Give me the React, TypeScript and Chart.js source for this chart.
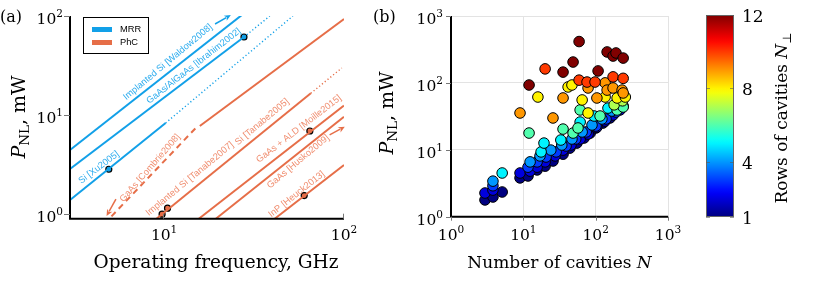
import React, { useEffect, useRef } from "react";
import { Chart, registerables } from "chart.js";
Chart.register(...registerables);

const SERIF = "'DejaVu Serif', serif";
const SANS = "'Liberation Sans', Arial, sans-serif";
const BLUE = "rgb(18,160,232)";
const BLUE_TXT = "rgb(45,172,238)";
const ORANGE = "rgb(230,110,72)";
const ORANGE_TXT = "rgb(240,142,112)";

// ---------------- Panel (a) data ----------------
const freqTicks = [10, 100];
const powerTicksA = [1, 10, 100];
const seriesNames = ["MRR", "PhC"];

const waldowLine = [[3, 4.44], [27, 102]];
const ibrahimSolid = [[3, 2.86], [27.8, 61.4]];
const ibrahimDotted = [[27.8, 61.4], [38.7, 100]];
const xuSolid = [[3, 1.39], [10.2, 8.32]];
const xuDotted = [[10.2, 8.32], [52, 100]];
const combrieDashed = [[5.1, 0.95], [15.0, 7.41]];
const combrieSolid = [[15.8, 7.76], [100, 93.3]];
const tanabeSolid = [[9.07, 0.9], [65.4, 16.6]];
const tanabeDotted = [[65.4, 16.6], [97.3, 29.9]];
const moilleLine = [[15.6, 0.9], [100, 12.5]];
const huskoLine = [[19.4, 0.9], [100, 9.64]];
const heuckLine = [[41.2, 0.9], [100, 3.14]];
const mrrPoints = [[4.93, 2.84], [27.8, 61.4]];
const phcPoints = [[9.75, 1.0], [10.45, 1.15], [64.6, 6.91], [60.1, 1.54]];

const mrrLabels = ["Implanted Si [Waldow2008]", "GaAs/AlGaAs [Ibrahim2002]", "Si [Xu2005]"];
const mrrLabelF = [10.5, 14.6, 4.34];
const mrrLabelP = [34.3, 31.3, 2.96];
const mrrLabelAngle = [-40, -38, -37];
const phcLabels = [
  "GaAs [Combrie2008]",
  "Implanted Si [Tanabe2007]",
  "Si [Tanabe2005]",
  "GaAs + ALD [Moille2015]",
  "GaAs [Husko2009]",
  "InP [Heuck2013]",
];
const phcLabelF = [8.35, 13.9, 35.0, 56.1, 55.6, 54.5];
const phcLabelP = [2.92, 2.27, 8.52, 7.24, 3.39, 1.59];
const phcLabelAngle = [-49, -39.6, -40, -37.7, -40, -38.4];

const arrowFrom = [[19.2, 83.0], [5.4, 1.42], [83.2, 6.3]];
const arrowTo = [[23.5, 102.3], [4.79, 0.96], [101, 7.64]];
const arrowIsMrr = [true, false, false];

// ---------------- Panel (b) data ----------------
const cavityTicks = [1, 10, 100, 1000];
const powerTicksB = [1, 10, 100, 1000];
const ROW_MIN = 1;
const ROW_MAX = 12;
const colorbarTicks = [1, 4, 8, 12];

const cavities = [
  // rows 1
  2.95, 3.8, 5.1, 9.0, 11.6, 15.5, 20, 25.7, 35.4, 44, 55, 69, 84, 101, 126, 158,
  // rows 2
  2.95, 3.8, 9.0, 12.4, 15.5, 20, 27.5, 35.4, 45.6, 61, 78.5, 104, 135, 174, 217,
  // rows 3
  3.8, 11.6, 15.5, 20.6, 28.4, 39, 53, 74, 101, 139, 191, 240,
  // rows 4
  3.8, 12.4, 17, 24, 34, 47, 65, 89, 122, 168, 224,
  // rows 5
  5.1, 17.6, 19.3, 33, 61, 95, 148, 203,
  // rows 6
  12, 35.4, 48.7, 57, 61, 115, 198, 240,
  // rows 7
  180, 235,
  // rows 8
  15.9, 41.6, 47, 65, 78.5, 135, 198, 257,
  // rows 9
  9.0, 25.7, 35.4, 78.5, 104, 135, 144, 174, 232, 240,
  // rows 10
  20, 59, 76, 98, 174, 240,
  // rows 12
  12, 35.4, 48.7, 59, 108, 144, 174, 191, 240,
];
const powerB = [
  1.78, 1.97, 2.34, 3.8, 4.06, 5.0, 5.7, 6.8, 8.6, 10.6, 12.6, 15, 17.8, 21.2, 25.1, 29.9,
  2.26, 2.5, 4.5, 4.8, 5.5, 6.6, 8.1, 9.9, 11.8, 14.5, 17.2, 21.9, 26.9, 33.1, 39.4,
  2.9, 5.5, 6.6, 7.8, 9.3, 11.4, 14.5, 18.5, 22.7, 28.9, 36.7, 45,
  3.4, 6.6, 8.1, 9.9, 11.8, 14.5, 18.5, 23.5, 28.9, 38, 48.4,
  4.5, 9.3, 12.6, 14, 26, 32, 42, 52,
  17.8, 20.4, 17.8, 21.2, 39.4, 32, 39.4, 43.6,
  47, 54,
  61.5, 87, 93, 55.6, 35.5, 61.5, 59.5, 61.5,
  35.5, 29.9, 59.5, 84, 59.5, 100, 78, 84, 78, 70.7,
  162, 110, 103, 103, 123, 117,
  93, 145, 205, 415, 151, 290, 252, 280, 235,
];
const rowsN = [
  ...Array(16).fill(1),
  ...Array(15).fill(2),
  ...Array(12).fill(3),
  ...Array(11).fill(4),
  ...Array(8).fill(5),
  ...Array(8).fill(6),
  ...Array(2).fill(7),
  ...Array(8).fill(8),
  ...Array(10).fill(9),
  ...Array(6).fill(10),
  ...Array(9).fill(12),
];

// ---------------- helpers ----------------
function jetColor(v: number): string {
  const t = Math.max(0, Math.min(1, (v - ROW_MIN) / (ROW_MAX - ROW_MIN)));
  const c = (x: number) => Math.round(255 * Math.max(0, Math.min(1, x)));
  return `rgb(${c(1.5 - Math.abs(4 * t - 3))},${c(1.5 - Math.abs(4 * t - 2))},${c(1.5 - Math.abs(4 * t - 1))})`;
}

type Seg = { t: string; size: number; italic?: boolean; dy?: number; family?: string };

function drawRich(
  ctx: CanvasRenderingContext2D,
  segs: Seg[],
  x: number,
  y: number,
  rot: number,
  align: "left" | "center" | "right",
  color: string,
  baseline: CanvasTextBaseline = "alphabetic"
) {
  ctx.save();
  ctx.translate(x, y);
  ctx.rotate(rot);
  ctx.fillStyle = color;
  ctx.textAlign = "left";
  ctx.textBaseline = baseline;
  const fontOf = (s: Seg) => `${s.italic ? "italic " : ""}${s.size}px ${s.family ?? SERIF}`;
  let w = 0;
  for (const s of segs) {
    ctx.font = fontOf(s);
    w += ctx.measureText(s.t).width;
  }
  let cx = align === "center" ? -w / 2 : align === "right" ? -w : 0;
  for (const s of segs) {
    ctx.font = fontOf(s);
    ctx.fillText(s.t, cx, s.dy ?? 0);
    cx += ctx.measureText(s.t).width;
  }
  ctx.restore();
}

function pow10Label(v: number): Seg[] {
  const e = Math.round(Math.log10(v));
  return [
    { t: "10", size: 15.5 },
    { t: String(e), size: 10.5, dy: -7 },
  ];
}

function drawArrow(ctx: CanvasRenderingContext2D, x0: number, y0: number, x1: number, y1: number, color: string) {
  const ang = Math.atan2(y1 - y0, x1 - x0);
  const hl = 6.5;
  const hw = 3;
  ctx.save();
  ctx.strokeStyle = color;
  ctx.fillStyle = color;
  ctx.lineWidth = 1.5;
  ctx.beginPath();
  ctx.moveTo(x0, y0);
  ctx.lineTo(x1 - hl * 0.8 * Math.cos(ang), y1 - hl * 0.8 * Math.sin(ang));
  ctx.stroke();
  ctx.beginPath();
  ctx.moveTo(x1, y1);
  ctx.lineTo(x1 - hl * Math.cos(ang) + hw * Math.sin(ang), y1 - hl * Math.sin(ang) - hw * Math.cos(ang));
  ctx.lineTo(x1 - hl * 0.7 * Math.cos(ang), y1 - hl * 0.7 * Math.sin(ang));
  ctx.lineTo(x1 - hl * Math.cos(ang) - hw * Math.sin(ang), y1 - hl * Math.sin(ang) + hw * Math.cos(ang));
  ctx.closePath();
  ctx.fill();
  ctx.restore();
}

const toXY = (pts: number[][]) => pts.map(([x, y]) => ({ x, y }));

function lineDs(pts: number[][], color: string, kind: "solid" | "dash" | "dot") {
  return {
    data: toXY(pts),
    showLine: true,
    borderColor: color,
    backgroundColor: color,
    borderWidth: kind === "dot" ? 1.4 : 2,
    borderDash: kind === "dash" ? [6, 4.5] : kind === "dot" ? [1.2, 2.4] : [],
    pointRadius: 0,
    fill: false,
  };
}

function pointDs(pts: number[][], color: string) {
  return {
    data: toXY(pts),
    showLine: false,
    pointRadius: 3,
    pointBackgroundColor: color,
    pointBorderColor: "#000",
    pointBorderWidth: 1.2,
  };
}

const hiddenX = (min: number, max: number) => ({
  type: "logarithmic" as const,
  min,
  max,
  ticks: { display: false },
  grid: { display: false, drawTicks: false },
  border: { display: false },
  afterFit: (s: any) => {
    s.height = 0;
  },
});
const hiddenY = (min: number, max: number) => ({
  type: "logarithmic" as const,
  min,
  max,
  ticks: { display: false },
  grid: { display: false, drawTicks: false },
  border: { display: false },
  afterFit: (s: any) => {
    s.width = 0;
  },
});

// ---------------- chart builders ----------------
function makeA(canvas: HTMLCanvasElement) {
  const plugin = {
    id: "panelA",
    afterDraw(chart: any) {
      const { ctx, chartArea: a } = chart;
      const sx = chart.scales.x;
      const sy = chart.scales.y;
      const px = (v: number) => sx.getPixelForValue(v);
      const py = (v: number) => sy.getPixelForValue(v);

      mrrLabels.forEach((t, i) => {
        drawRich(ctx, [{ t, size: 9.3, family: SANS }], px(mrrLabelF[i]), py(mrrLabelP[i]), (mrrLabelAngle[i] * Math.PI) / 180, "center", BLUE_TXT, "middle");
      });
      phcLabels.forEach((t, i) => {
        drawRich(ctx, [{ t, size: 9.3, family: SANS }], px(phcLabelF[i]), py(phcLabelP[i]), (phcLabelAngle[i] * Math.PI) / 180, "center", ORANGE_TXT, "middle");
      });
      arrowFrom.forEach((f, i) => {
        drawArrow(ctx, px(f[0]), py(f[1]), px(arrowTo[i][0]), py(arrowTo[i][1]), arrowIsMrr[i] ? BLUE : ORANGE);
      });

      ctx.save();
      ctx.strokeStyle = "#000";
      ctx.lineWidth = 2;
      ctx.beginPath();
      ctx.moveTo(a.left, a.top);
      ctx.lineTo(a.left, a.bottom);
      ctx.lineTo(a.right, a.bottom);
      ctx.stroke();
      ctx.strokeStyle = "#777";
      ctx.lineWidth = 1;
      powerTicksA.forEach((v) => {
        const y = Math.round(py(v)) + 0.5;
        ctx.beginPath();
        ctx.moveTo(a.left - 6, y);
        ctx.lineTo(a.left, y);
        ctx.stroke();
      });
      freqTicks.forEach((v) => {
        const x = Math.round(px(v)) - 0.5;
        ctx.beginPath();
        ctx.moveTo(x, a.bottom);
        ctx.lineTo(x, a.bottom - 5);
        ctx.stroke();
      });
      ctx.restore();

      powerTicksA.forEach((v) => drawRich(ctx, pow10Label(v), a.left - 7, py(v) + 7.5, 0, "right", "#000"));
      freqTicks.forEach((v) => drawRich(ctx, pow10Label(v), px(v), 240, 0, "center", "#000"));

      drawRich(ctx, [{ t: "Operating frequency, GHz", size: 18.5 }], (a.left + a.right) / 2 + 9, 268, 0, "center", "#000");
      drawRich(
        ctx,
        [
          { t: "P", size: 19, italic: true },
          { t: "NL", size: 13.5, dy: 4 },
          { t: ", mW", size: 19 },
        ],
        25,
        117,
        -Math.PI / 2,
        "center",
        "#000"
      );
      drawRich(ctx, [{ t: "(a)", size: 16 }], 0, 22, 0, "left", "#000");

      const lx = a.left + 13;
      const ly = a.top + 1;
      ctx.save();
      ctx.fillStyle = "#fff";
      ctx.fillRect(lx, ly, 65, 36);
      ctx.strokeStyle = "#000";
      ctx.lineWidth = 1;
      ctx.strokeRect(lx + 0.5, ly + 0.5, 65, 36);
      [BLUE, ORANGE].forEach((c, i) => {
        const yy = ly + 12.5 + i * 13;
        ctx.strokeStyle = c;
        ctx.lineWidth = 5;
        ctx.beginPath();
        ctx.moveTo(lx + 9, yy);
        ctx.lineTo(lx + 29, yy);
        ctx.stroke();
        drawRich(ctx, [{ t: seriesNames[i], size: 9.3, family: SANS }], lx + 37, yy, 0, "left", "#000", "middle");
      });
      ctx.restore();
    },
  };

  return new Chart(canvas, {
    type: "scatter",
    data: {
      datasets: [
        lineDs(waldowLine, BLUE, "solid"),
        lineDs(ibrahimSolid, BLUE, "solid"),
        lineDs(ibrahimDotted, BLUE, "dot"),
        lineDs(xuSolid, BLUE, "solid"),
        lineDs(xuDotted, BLUE, "dot"),
        lineDs(combrieDashed, ORANGE, "dash"),
        lineDs(combrieSolid, ORANGE, "solid"),
        lineDs(tanabeSolid, ORANGE, "solid"),
        lineDs(tanabeDotted, ORANGE, "dot"),
        lineDs(moilleLine, ORANGE, "solid"),
        lineDs(huskoLine, ORANGE, "solid"),
        lineDs(heuckLine, ORANGE, "solid"),
        pointDs(mrrPoints, BLUE),
        pointDs(phcPoints, ORANGE),
      ] as any,
    },
    options: {
      responsive: false,
      animation: false,
      layout: { padding: { left: 70, right: 16, top: 16, bottom: 74.3 } },
      plugins: { legend: { display: false }, tooltip: { enabled: false } },
      scales: { x: hiddenX(3, 100), y: hiddenY(0.9, 100) } as any,
    },
    plugins: [plugin],
  });
}

function makeB(canvas: HTMLCanvasElement) {
  const grid = { display: true, color: "#e3e3e3", lineWidth: 1, drawTicks: false };
  const plugin = {
    id: "panelB",
    afterDraw(chart: any) {
      const { ctx, chartArea: a } = chart;
      const sx = chart.scales.x;
      const sy = chart.scales.y;
      ctx.save();
      ctx.strokeStyle = "#000";
      ctx.lineWidth = 2;
      ctx.beginPath();
      ctx.moveTo(a.left, a.top);
      ctx.lineTo(a.left, a.bottom);
      ctx.lineTo(a.right, a.bottom);
      ctx.stroke();
      ctx.strokeStyle = "#777";
      ctx.lineWidth = 1;
      powerTicksB.forEach((v) => {
        const y = Math.round(sy.getPixelForValue(v)) + 0.5;
        ctx.beginPath();
        ctx.moveTo(a.left - 5, y);
        ctx.lineTo(a.left, y);
        ctx.stroke();
      });
      cavityTicks.forEach((v) => {
        const x = Math.round(sx.getPixelForValue(v)) + 0.5;
        ctx.beginPath();
        ctx.moveTo(x, a.bottom);
        ctx.lineTo(x, a.bottom + 4);
        ctx.stroke();
      });
      ctx.restore();
      powerTicksB.forEach((v) => drawRich(ctx, pow10Label(v), a.left - 8, sy.getPixelForValue(v) + 8, 0, "right", "#000"));
      cavityTicks.forEach((v) => drawRich(ctx, pow10Label(v), sx.getPixelForValue(v), 240, 0, "center", "#000"));
      drawRich(
        ctx,
        [
          { t: "Number of cavities ", size: 17 },
          { t: "N", size: 17, italic: true },
        ],
        (a.left + a.right) / 2,
        268,
        0,
        "center",
        "#000"
      );
      drawRich(
        ctx,
        [
          { t: "P", size: 19, italic: true },
          { t: "NL", size: 13.5, dy: 4 },
          { t: ", mW", size: 19 },
        ],
        33,
        113,
        -Math.PI / 2,
        "center",
        "#000"
      );
      drawRich(ctx, [{ t: "(b)", size: 16 }], 13, 22, 0, "left", "#000");
    },
  };
  return new Chart(canvas, {
    type: "scatter",
    data: {
      datasets: [
        {
          data: cavities.map((n, i) => ({ x: n, y: powerB[i] })),
          pointRadius: 5.3,
          pointBackgroundColor: rowsN.map((r) => jetColor(r)),
          pointBorderColor: "#000",
          pointBorderWidth: 1,
        },
      ] as any,
    },
    options: {
      responsive: false,
      animation: false,
      layout: { padding: { left: 91, right: 22, top: 16, bottom: 76.3 } },
      plugins: { legend: { display: false }, tooltip: { enabled: false } },
      scales: {
        x: {
          ...hiddenX(1, 1000),
          grid,
          afterBuildTicks: (s: any) => {
            s.ticks = cavityTicks.map((value) => ({ value }));
          },
        },
        y: {
          ...hiddenY(1, 1000),
          grid,
          afterBuildTicks: (s: any) => {
            s.ticks = powerTicksB.map((value) => ({ value }));
          },
        },
      } as any,
    },
    plugins: [plugin],
  });
}

function makeC(canvas: HTMLCanvasElement) {
  const plugin = {
    id: "colorbar",
    afterDraw(chart: any) {
      const { ctx, chartArea: a } = chart;
      const sy = chart.scales.y;
      const g = ctx.createLinearGradient(0, a.bottom, 0, a.top);
      for (let i = 0; i <= 44; i++) {
        const v = ROW_MIN + ((ROW_MAX - ROW_MIN) * i) / 44;
        g.addColorStop(i / 44, jetColor(v));
      }
      ctx.save();
      ctx.fillStyle = g;
      ctx.fillRect(a.left, a.top, a.right - a.left, a.bottom - a.top);
      ctx.strokeStyle = "#666";
      ctx.lineWidth = 1;
      ctx.strokeRect(a.left + 0.5, a.top + 0.5, a.right - a.left - 1, a.bottom - a.top - 1);
      ctx.strokeStyle = "rgba(90,90,90,0.6)";
      colorbarTicks.forEach((v) => {
        const y = Math.round(sy.getPixelForValue(v)) + 0.5;
        ctx.beginPath();
        ctx.moveTo(a.left, y);
        ctx.lineTo(a.left + 4, y);
        ctx.moveTo(a.right - 4, y);
        ctx.lineTo(a.right, y);
        ctx.stroke();
      });
      ctx.restore();
      colorbarTicks.forEach((v) => drawRich(ctx, [{ t: String(v), size: 17 }], a.right + 8, sy.getPixelForValue(v) + 7, 0, "left", "#000"));
      drawRich(
        ctx,
        [
          { t: "Rows of cavities ", size: 17 },
          { t: "N", size: 17, italic: true },
          { t: "⊥", size: 12, dy: 4 },
        ],
        97,
        118,
        -Math.PI / 2,
        "center",
        "#000"
      );
    },
  };
  return new Chart(canvas, {
    type: "scatter",
    data: { datasets: [] },
    options: {
      responsive: false,
      animation: false,
      layout: { padding: { left: 16, right: 96, top: 15, bottom: 76 } },
      plugins: { legend: { display: false }, tooltip: { enabled: false } },
      scales: {
        x: { type: "linear", min: 0, max: 1, display: false },
        y: {
          type: "linear",
          min: ROW_MIN,
          max: ROW_MAX,
          ticks: { display: false },
          grid: { display: false, drawTicks: false },
          border: { display: false },
          afterFit: (s: any) => {
            s.width = 0;
          },
        },
      } as any,
    },
    plugins: [plugin],
  });
}

export default function App() {
  const refA = useRef<HTMLCanvasElement>(null);
  const refB = useRef<HTMLCanvasElement>(null);
  const refC = useRef<HTMLCanvasElement>(null);
  useEffect(() => {
    const charts = [makeA(refA.current!), makeB(refB.current!), makeC(refC.current!)];
    return () => charts.forEach((c) => c.destroy());
  }, []);
  const abs = (left: number, width: number) => ({ position: "absolute" as const, left, top: 0, width, height: 293 });
  return (
    <div style={{ position: "fixed", left: 0, top: 0, width: 830, height: 293, background: "#fff" }}>
      <canvas ref={refA} width={360} height={293} style={abs(0, 360)} />
      <canvas ref={refB} width={330} height={293} style={abs(360, 330)} />
      <canvas ref={refC} width={140} height={293} style={abs(690, 140)} />
    </div>
  );
}
